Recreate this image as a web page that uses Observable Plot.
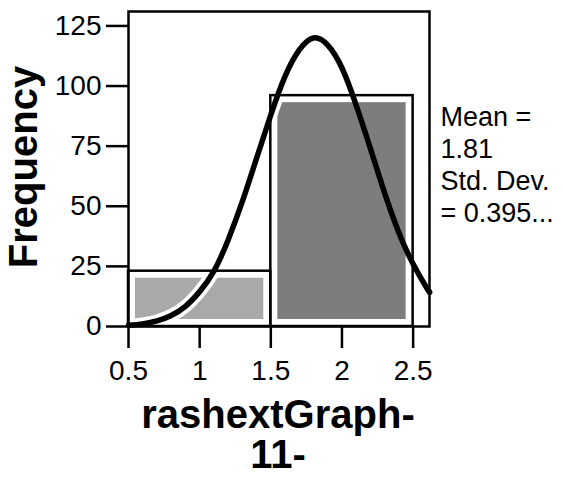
<!DOCTYPE html>
<html>
<head>
<meta charset="utf-8">
<script src="https://cdn.jsdelivr.net/npm/d3@7"></script>
<script src="https://cdn.jsdelivr.net/npm/@observablehq/plot@0.6"></script>
<style>
  html, body { margin: 0; padding: 0; background: #fff; }
  #chart svg { display: block; }
</style>
</head>
<body>
<div id="chart"></div>
<script>
// ---- data ----
const binStart = [0.5, 1.5];
const binEnd = [1.5, 2.5];
const frequency = [23, 96];

// fitted normal curve
const curveX = [0.5, 0.6, 0.7, 0.8, 0.9, 1.0, 1.1, 1.2, 1.3, 1.4, 1.5, 1.6, 1.7, 1.8, 1.9, 2.0, 2.1, 2.2, 2.3, 2.4, 2.5, 2.6, 2.615];
const curveY = [0.5, 1.1, 2.3, 4.6, 8.4, 14.5, 23, 36, 52, 70, 88, 104, 115, 120, 117, 107.5, 92, 74, 55.5, 39, 26, 15.6, 14.5];

const xTicks = [0.5, 1, 1.5, 2, 2.5];
const yTicks = [0, 25, 50, 75, 100, 125];

const meanValue = "1.81";
const stdDevValue = "0.395...";
const xLabel = ["rashextGraph-", "11-"];
const yLabel = "Frequency";

// ---- build tables ----
const bins = binStart.map((s, i) => ({x1: s, x2: binEnd[i], count: frequency[i], i}));
const curve = curveX.map((x, i) => ({x, y: curveY[i]}));
const haloCurve = curve.filter(d => d.x <= 1.6);
const statsText = `Mean =\n${meanValue}\nStd. Dev.\n= ${stdDevValue}`;

const font = "'Liberation Sans', Arial, Helvetica, sans-serif";

const chart = Plot.plot({
  width: 563,
  height: 477,
  marginLeft: 128,
  marginRight: 134,
  marginTop: 11,
  marginBottom: 151,
  x: {domain: [0.5, 2.615]},
  y: {domain: [0, 131]},
  style: {fontFamily: font, color: "black", background: "white", overflow: "visible"},
  marks: [
    Plot.rect(bins, {x1: "x1", x2: "x2", y1: 0, y2: "count", fill: "white"}),
    Plot.rect(bins, {x1: "x1", x2: "x2", y1: 0, y2: "count", inset: 7,
      fill: d => d.i === 0 ? "#a9a9a9" : "#7d7d7d"}),
    Plot.line(haloCurve, {x: "x", y: "y", curve: "natural", stroke: "white", strokeWidth: 13}),
    Plot.rect(bins, {x1: "x1", x2: "x2", y1: 0, y2: "count", fill: "none", stroke: "black", strokeWidth: 2.5}),
    Plot.line(curve, {x: "x", y: "y", curve: "natural", stroke: "black", strokeWidth: 5.5}),
    Plot.frame({stroke: "black", strokeWidth: 2.5}),
    Plot.axisY(yTicks, {tickSize: 22, tickPadding: 5, fontSize: 28, strokeWidth: 2.5, label: null, fill: "black"}),
    Plot.axisX(xTicks, {tickSize: 22, tickPadding: 12, fontSize: 28, strokeWidth: 2.5, label: null, fill: "black", tickFormat: d => String(d)}),
    Plot.text([statsText], {frameAnchor: "top-right", dx: 11, dy: 92, textAnchor: "start", lineAnchor: "top",
      fontSize: 27, lineHeight: 1.18, fill: "black"}),
    Plot.text([yLabel], {frameAnchor: "left", dx: -104, dy: -2, rotate: -90, textAnchor: "middle", lineAnchor: "middle",
      fontSize: 40, fontWeight: "bold", fill: "black"}),
    Plot.text([xLabel[0]], {frameAnchor: "bottom", dx: -1, dy: 73, textAnchor: "middle", lineAnchor: "top",
      fontSize: 40, fontWeight: "bold", fill: "black"}),
    Plot.text([xLabel[1]], {frameAnchor: "bottom", dx: -1, dy: 113, textAnchor: "middle", lineAnchor: "top",
      fontSize: 40, fontWeight: "bold", fill: "black"})
  ]
});

document.getElementById("chart").appendChild(chart);
</script>
</body>
</html>
